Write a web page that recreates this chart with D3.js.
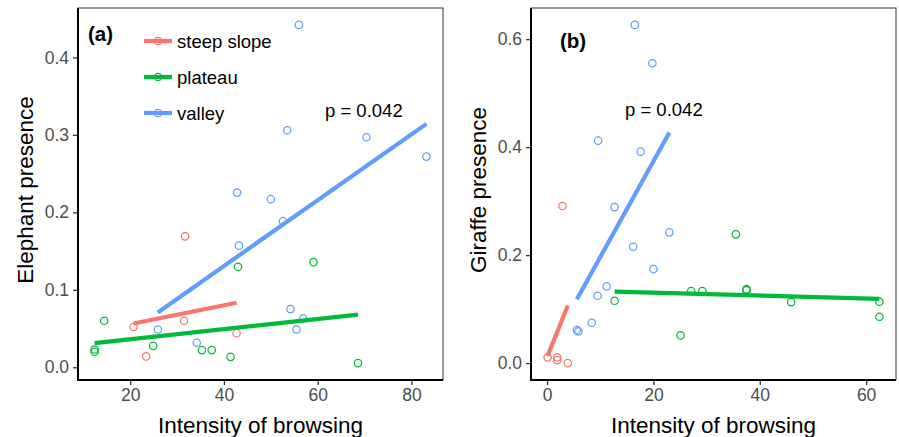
<!DOCTYPE html>
<html>
<head>
<meta charset="utf-8">
<script src="https://cdn.jsdelivr.net/npm/d3@7"></script>
<style>
    body { margin: 0; background: #fff; }
    svg { display: block; font-family: "Liberation Sans", Arial, Helvetica, sans-serif; }
</style>
</head>
<body>
<svg id="chart" width="899" height="437"></svg>
<script>
// Group names and colours (ggplot default hues)
const GROUPS = ['steep slope', 'plateau', 'valley'];
const GROUP_COLORS = ['#F8766D', '#00BA38', '#619CFF'];

// Panel (a): elephant presence vs intensity of browsing
const elephantSteepX = [20.7, 23.4, 31.5, 31.7, 42.7];
const elephantSteepY = [0.052, 0.014, 0.060, 0.169, 0.044];
const elephantPlateauX = [14.45, 24.9, 12.4, 12.4, 35.3, 37.4, 41.4, 43.0, 59.1, 68.6];
const elephantPlateauY = [0.060, 0.0277, 0.023, 0.020, 0.0222, 0.0222, 0.0135, 0.1297, 0.1357, 0.0054];
const elephantValleyX = [56.0, 53.5, 70.4, 83.2, 42.8, 50.0, 52.6, 43.2, 54.2, 56.9, 55.5, 25.9, 34.2];
const elephantValleyY = [0.442, 0.306, 0.297, 0.272, 0.2255, 0.217, 0.1886, 0.157, 0.0751, 0.063, 0.0488, 0.0488, 0.0316];

// Panel (b): giraffe presence vs intensity of browsing
const giraffeSteepX = [0.1, 1.9, 1.9, 3.9, 2.9];
const giraffeSteepY = [0.0106, 0.0106, 0.0056, 0.0, 0.291];
const giraffePlateauX = [35.5, 12.7, 27.1, 29.2, 37.5, 37.5, 45.9, 62.5, 62.5, 25.1];
const giraffePlateauY = [0.2385, 0.1155, 0.1335, 0.1335, 0.137, 0.135, 0.113, 0.1137, 0.0859, 0.0513];
const giraffeValleyX = [16.5, 19.8, 9.6, 17.6, 12.7, 23.0, 16.2, 20.0, 11.2, 9.5, 8.4, 5.6, 5.9];
const giraffeValleyY = [0.6265, 0.5555, 0.412, 0.3917, 0.289, 0.2422, 0.2156, 0.1742, 0.1421, 0.1248, 0.0748, 0.0612, 0.0588];

// Tick values
const elephantXTicks = [20, 40, 60, 80];
const elephantYTicks = [0.0, 0.1, 0.2, 0.3, 0.4];
const giraffeXTicks = [0, 20, 40, 60];
const giraffeYTicks = [0.0, 0.2, 0.4, 0.6];

const TICK_COLOR = '#4D4D4D';
const FONT_TICK = 17.5;
const FONT_TITLE = 22.5;
const POINT_R = 3.7;
const LINE_W = 4.2;

function zipPoints(xs, ys)
{
    return xs.map((x, i) => [x, ys[i]]);
}

// Least squares line over the x-range of the group
function fitLine(points)
{
    const mx = d3.mean(points, d => d[0]);
    const my = d3.mean(points, d => d[1]);
    let sxy = 0;
    let sxx = 0;
    points.forEach(([x, y]) =>
    {
        sxy += (x - mx) * (y - my);
        sxx += (x - mx) * (x - mx);
    });
    const slope = sxy / sxx;
    const [x0, x1] = d3.extent(points, d => d[0]);
    return [[x0, my + slope * (x0 - mx)], [x1, my + slope * (x1 - mx)]];
}

// ggplot style 5% expansion
function expandedExtent(values)
{
    const [lo, hi] = d3.extent(values);
    const pad = (hi - lo) * 0.05;
    return [lo - pad, hi + pad];
}

function drawPanel(svg, panel)
{
    const groups = panel.groups.map((g, i) => ({ points: zipPoints(g[0], g[1]), color: GROUP_COLORS[i] }));
    const allPoints = groups.flatMap(g => g.points);

    const xScale = d3.scaleLinear()
        .domain(expandedExtent(allPoints.map(d => d[0])))
        .range([panel.left, panel.right]);
    const yScale = d3.scaleLinear()
        .domain(expandedExtent(allPoints.map(d => d[1])))
        .range([panel.bottom, panel.top]);

    // Panel border
    svg.append('rect')
        .attr('x', panel.left)
        .attr('y', panel.top)
        .attr('width', panel.right - panel.left)
        .attr('height', panel.bottom - panel.top)
        .attr('fill', 'none')
        .attr('stroke', '#333')
        .attr('stroke-width', 1);

    // Points first, fitted lines on top
    groups.forEach(g =>
    {
        svg.append('g')
            .selectAll('circle')
            .data(g.points)
            .join('circle')
            .attr('cx', d => xScale(d[0]))
            .attr('cy', d => yScale(d[1]))
            .attr('r', POINT_R)
            .attr('fill', 'none')
            .attr('stroke', g.color)
            .attr('stroke-width', 1.25);
    });

    const line = d3.line().x(d => xScale(d[0])).y(d => yScale(d[1]));
    groups.forEach(g =>
    {
        svg.append('path')
            .datum(fitLine(g.points))
            .attr('d', line)
            .attr('fill', 'none')
            .attr('stroke', g.color)
            .attr('stroke-width', LINE_W);
    });

    // Axes
    const xAxis = svg.append('g')
        .attr('transform', `translate(0,${ panel.bottom })`)
        .call(d3.axisBottom(xScale).tickValues(panel.xTicks).tickSize(5).tickPadding(4).tickFormat(d3.format('d')));
    const yAxis = svg.append('g')
        .attr('transform', `translate(${ panel.left },0)`)
        .call(d3.axisLeft(yScale).tickValues(panel.yTicks).tickSize(5).tickPadding(4).tickFormat(d3.format('.1f')));

    [xAxis, yAxis].forEach(ax =>
    {
        ax.select('.domain').remove();
        ax.selectAll('.tick line').attr('stroke', '#333').attr('stroke-width', 1.3);
        ax.selectAll('.tick text')
            .attr('fill', TICK_COLOR)
            .style('font-size', `${ FONT_TICK }px`)
            .style('font-family', '"Liberation Sans", Arial, sans-serif');
    });

    // Thick axis lines on left and bottom
    svg.append('line')
        .attr('x1', panel.left).attr('x2', panel.left)
        .attr('y1', panel.top).attr('y2', panel.bottom + 1)
        .attr('stroke', '#000').attr('stroke-width', 2);
    svg.append('line')
        .attr('x1', panel.left - 1).attr('x2', panel.right)
        .attr('y1', panel.bottom).attr('y2', panel.bottom)
        .attr('stroke', '#000').attr('stroke-width', 2);

    // Axis titles
    svg.append('text')
        .attr('x', (panel.left + panel.right) / 2)
        .attr('y', 433)
        .attr('text-anchor', 'middle')
        .style('font-size', `${ FONT_TITLE }px`)
        .text(panel.xTitle);
    svg.append('text')
        .attr('transform', `translate(${ panel.yTitleX },${ (panel.top + panel.bottom) / 2 - 4 }) rotate(-90)`)
        .attr('text-anchor', 'middle')
        .style('font-size', `${ FONT_TITLE }px`)
        .text(panel.yTitle);

    // Panel tag and p-value
    svg.append('text')
        .attr('x', panel.tagX)
        .attr('y', panel.tagY)
        .style('font-size', '20.5px')
        .style('font-weight', 'bold')
        .text(panel.tag);
    svg.append('text')
        .attr('x', panel.pX)
        .attr('y', panel.pY)
        .style('font-size', '18.5px')
        .text('p = 0.042');
}

function drawLegend(svg, x, y, rowGap)
{
    GROUPS.forEach((name, i) =>
    {
        const cy = y + i * rowGap;
        svg.append('line')
            .attr('x1', x).attr('x2', x + 28)
            .attr('y1', cy).attr('y2', cy)
            .attr('stroke', GROUP_COLORS[i])
            .attr('stroke-width', LINE_W);
        svg.append('circle')
            .attr('cx', x + 14).attr('cy', cy)
            .attr('r', POINT_R)
            .attr('fill', 'none')
            .attr('stroke', GROUP_COLORS[i])
            .attr('stroke-width', 1.25);
        svg.append('text')
            .attr('x', x + 33)
            .attr('y', cy + 6.5)
            .style('font-size', '18.5px')
            .text(name);
    });
}

const svg = d3.select('#chart');

drawPanel(svg, {
    left: 78, right: 443, top: 8, bottom: 380,
    groups: [[elephantSteepX, elephantSteepY], [elephantPlateauX, elephantPlateauY], [elephantValleyX, elephantValleyY]],
    xTicks: elephantXTicks, yTicks: elephantYTicks,
    xTitle: 'Intensity of browsing', yTitle: 'Elephant presence', yTitleX: 33,
    tag: '(a)', tagX: 88, tagY: 41,
    pX: 325, pY: 117
});

drawPanel(svg, {
    left: 531, right: 896, top: 8, bottom: 380,
    groups: [[giraffeSteepX, giraffeSteepY], [giraffePlateauX, giraffePlateauY], [giraffeValleyX, giraffeValleyY]],
    xTicks: giraffeXTicks, yTicks: giraffeYTicks,
    xTitle: 'Intensity of browsing', yTitle: 'Giraffe presence', yTitleX: 486,
    tag: '(b)', tagX: 560, tagY: 48,
    pX: 625, pY: 116
});

drawLegend(svg, 144, 41, 36);
</script>
</body>
</html>
